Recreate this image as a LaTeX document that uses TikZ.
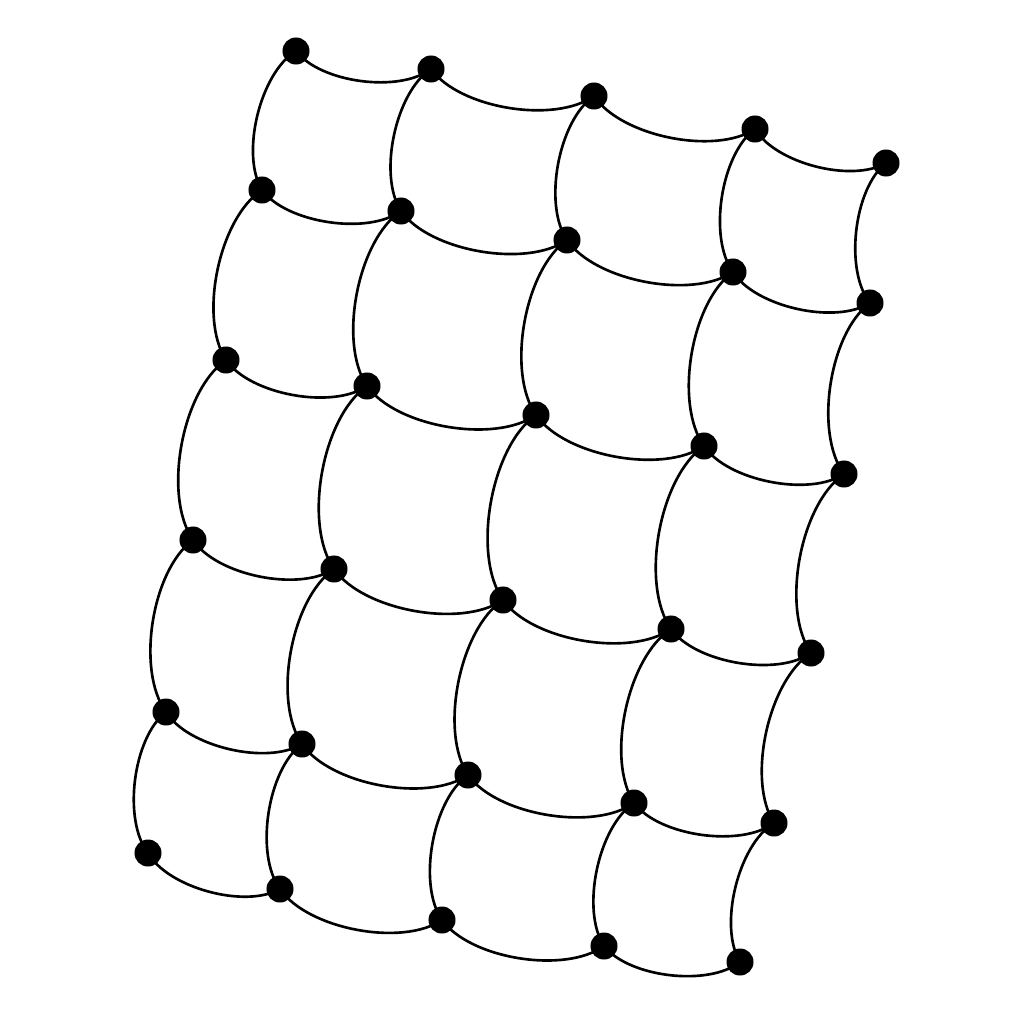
\documentclass[tikz,border=0pt]{standalone}
\usetikzlibrary{backgrounds}
\begin{document}
\begin{tikzpicture}[x=0.01cm,y=-0.01cm,
  dot/.style={circle,fill=black,inner sep=0pt,minimum size=0.27cm},
  edge/.style={line width=0.75pt,bend right=45,looseness=0.75}]
\useasboundingbox (0,0) rectangle (1024,1024);
% rows r0..r5, columns c0..c4
\node[dot] (n00) at (296,51) {};
\node[dot] (n01) at (431,69) {};
\node[dot] (n02) at (594,96) {};
\node[dot] (n03) at (755,129) {};
\node[dot] (n04) at (886,163) {};
\node[dot] (n10) at (262,190) {};
\node[dot] (n11) at (401,211) {};
\node[dot] (n12) at (567,240) {};
\node[dot] (n13) at (733,272) {};
\node[dot] (n14) at (870,303) {};
\node[dot] (n20) at (226,360) {};
\node[dot] (n21) at (367,386) {};
\node[dot] (n22) at (536,415) {};
\node[dot] (n23) at (704,446) {};
\node[dot] (n24) at (844,474) {};
\node[dot] (n30) at (193,540) {};
\node[dot] (n31) at (334,569) {};
\node[dot] (n32) at (503,600) {};
\node[dot] (n33) at (671,629) {};
\node[dot] (n34) at (811,653) {};
\node[dot] (n40) at (166,712) {};
\node[dot] (n41) at (302,744) {};
\node[dot] (n42) at (468,775) {};
\node[dot] (n43) at (634,803) {};
\node[dot] (n44) at (774,823) {};
\node[dot] (n50) at (148,853) {};
\node[dot] (n51) at (280,889) {};
\node[dot] (n52) at (442,920) {};
\node[dot] (n53) at (604,946) {};
\node[dot] (n54) at (740,962) {};
\begin{scope}[on background layer]
% horizontal edges
\foreach \r in {0,...,5}{
  \foreach \c [evaluate=\c as \d using int(\c+1)] in {0,...,3}{
    \draw[edge] (n\r\c.center) to (n\r\d.center);
  }
}
% vertical edges
\foreach \r [evaluate=\r as \s using int(\r+1)] in {0,...,4}{
  \foreach \c in {0,...,4}{
    \draw[edge] (n\r\c.center) to (n\s\c.center);
  }
}
\end{scope}
\end{tikzpicture}
\end{document}
